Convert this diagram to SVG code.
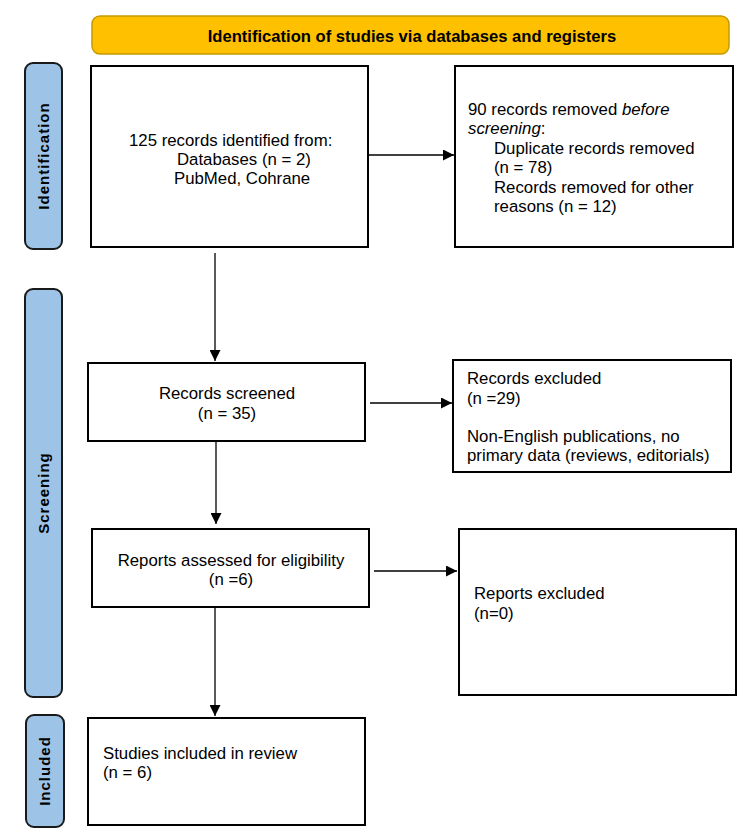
<svg xmlns="http://www.w3.org/2000/svg" width="750" height="834" viewBox="0 0 750 834">
<style>
.box{fill:#fff;stroke:#000;stroke-width:2}
.hdr{fill:#FFC000;stroke:#C49A00;stroke-width:1.5}
.side{fill:#9DC3E6;stroke:#1a1a1a;stroke-width:2}
.t{font-family:"Liberation Sans",Arial,sans-serif;font-size:16.8px;fill:#000}
.h{font-family:"Liberation Sans",Arial,sans-serif;font-size:16.6px;font-weight:bold;fill:#000}
.s{font-family:"Liberation Sans",Arial,sans-serif;font-size:15px;font-weight:bold;letter-spacing:1px;fill:#000}
.c{stroke:#000;stroke-width:1.3;fill:none;marker-end:url(#ah)}
</style>
<defs>
<marker id="ah" viewBox="0 0 10 10" refX="10" refY="5" markerWidth="11" markerHeight="11" markerUnits="userSpaceOnUse" orient="auto">
<path d="M0,0 L10,5 L0,10 z" fill="#000"/>
</marker>
</defs>
<rect width="750" height="834" fill="#fff"/>
<g id="header">
<rect class="hdr" x="92" y="16" width="637" height="38" rx="8"/>
<text class="h" x="412" y="42" text-anchor="middle">Identification of studies via databases and registers</text>
</g>
<g id="label-identification">
<rect class="side" x="25" y="63" width="37" height="186" rx="8"/>
<text class="s" transform="translate(49,156) rotate(-90)" text-anchor="middle">Identification</text>
</g>
<g id="label-screening">
<rect class="side" x="25" y="289" width="37" height="408" rx="8"/>
<text class="s" transform="translate(49,493) rotate(-90)" text-anchor="middle">Screening</text>
</g>
<g id="label-included">
<rect class="side" x="26" y="715" width="38" height="112" rx="8"/>
<text class="s" transform="translate(50,771) rotate(-90)" text-anchor="middle">Included</text>
</g>
<g id="identified">
<rect class="box" x="91" y="66" width="277" height="181"/>
<text class="t" x="129" y="146">125 records identified from:</text>
<text class="t" x="177" y="165">Databases (n = 2)</text>
<text class="t" x="174" y="184">PubMed, Cohrane</text>
</g>
<g id="removed">
<rect class="box" x="455" y="66" width="278" height="181"/>
<text class="t" x="468" y="115">90 records removed <tspan font-style="italic">before</tspan></text>
<text class="t" x="468" y="134"><tspan font-style="italic">screening</tspan>:</text>
<text class="t" x="494" y="154">Duplicate records removed</text>
<text class="t" x="494" y="173">(n = 78)</text>
<text class="t" x="494" y="193">Records removed for other</text>
<text class="t" x="494" y="212">reasons (n = 12)</text>
</g>
<g id="screened">
<rect class="box" x="88" y="363" width="277" height="78"/>
<text class="t" x="227" y="399" text-anchor="middle">Records screened</text>
<text class="t" x="227" y="419" text-anchor="middle">(n = 35)</text>
</g>
<g id="excluded">
<rect class="box" x="453" y="360" width="278" height="112"/>
<text class="t" x="467" y="384">Records excluded</text>
<text class="t" x="467" y="404">(n =29)</text>
<text class="t" x="467" y="442">Non-English publications, no</text>
<text class="t" x="467" y="461">primary data (reviews, editorials)</text>
</g>
<g id="assessed">
<rect class="box" x="92" y="529" width="277" height="78"/>
<text class="t" x="231" y="566" text-anchor="middle">Reports assessed for eligibility</text>
<text class="t" x="231" y="585" text-anchor="middle">(n =6)</text>
</g>
<g id="reports-excluded">
<rect class="box" x="459" y="529" width="277" height="166"/>
<text class="t" x="474" y="599">Reports excluded</text>
<text class="t" x="474" y="619">(n=0)</text>
</g>
<g id="included">
<rect class="box" x="88" y="718" width="277" height="107"/>
<text class="t" x="103" y="759">Studies included in review</text>
<text class="t" x="103" y="778">(n = 6)</text>
</g>
<g id="connectors">
<line class="c" x1="369" y1="155" x2="454" y2="155"/>
<line class="c" x1="215" y1="253" x2="215" y2="361"/>
<line class="c" x1="370" y1="403" x2="452" y2="403"/>
<line class="c" x1="216" y1="442" x2="216" y2="524"/>
<line class="c" x1="374" y1="571" x2="457" y2="571"/>
<line class="c" x1="215" y1="608" x2="215" y2="716"/>
</g>
</svg>
